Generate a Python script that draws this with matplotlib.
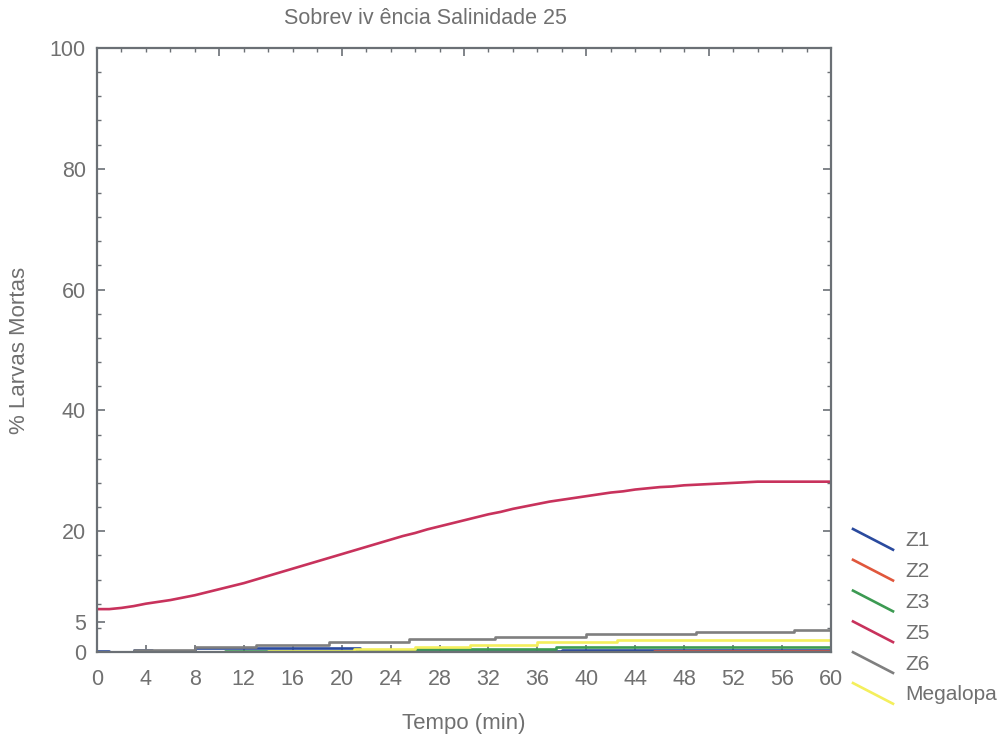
import matplotlib
matplotlib.use('Agg')
import matplotlib.pyplot as plt
from matplotlib.lines import Line2D
from matplotlib.legend_handler import HandlerBase
from matplotlib.ticker import MultipleLocator, FixedLocator

plt.rcParams['font.family'] = ['Liberation Sans', 'DejaVu Sans']
txt = '#707070'
axc = '#6b7075'

# series: step times (min) and % dead larvae
labels = ['Z1', 'Z2', 'Z3', 'Z5', 'Z6', 'Megalopa']
colors = ['#2a4a9e', '#e0573c', '#3c9a52', '#c8325c', '#7f7f7f', '#f4ef5c']

t_z1 = [0, 1, 3, 4.5, 8, 21.5, 38, 60]
v_z1 = [0.2, 0, 0.3, 0, 0.6, 0.1, 0.4, 0.4]
t_z2 = [0, 45.5, 60]
v_z2 = [0, 0.2, 0.2]
t_z3 = [0, 10.5, 21.5, 26, 37.5, 60]
v_z3 = [0, 0.2, 0.1, 0.5, 0.9, 0.9]
t_z5 = list(range(0, 61))
v_z5 = [7.1, 7.1, 7.3, 7.6, 8.0, 8.3, 8.6, 9.0, 9.4, 9.9,
        10.4, 10.9, 11.4, 12.0, 12.6, 13.2, 13.8, 14.4, 15.0, 15.6,
        16.2, 16.8, 17.4, 18.0, 18.6, 19.2, 19.7, 20.3, 20.8, 21.3,
        21.8, 22.3, 22.8, 23.2, 23.7, 24.1, 24.5, 24.9, 25.2, 25.5,
        25.8, 26.1, 26.4, 26.6, 26.9, 27.1, 27.3, 27.4, 27.6, 27.7,
        27.8, 27.9, 28.0, 28.1, 28.2, 28.2, 28.2, 28.2, 28.2, 28.2, 28.2]
t_z6 = [0, 3, 8, 13, 19, 25.5, 32.5, 40, 49, 57, 60]
v_z6 = [0, 0.3, 0.8, 1.2, 1.7, 2.1, 2.5, 3.0, 3.3, 3.7, 3.7]
t_meg = [0, 14, 21, 26, 30.5, 36, 42.5, 60]
v_meg = [0, 0.1, 0.5, 0.8, 1.2, 1.6, 2.0, 2.0]

series = [(t_z1, v_z1), (t_z2, v_z2), (t_z3, v_z3), (t_z5, v_z5), (t_z6, v_z6), (t_meg, v_meg)]
styles = ['steps-post', 'steps-post', 'steps-post', 'default', 'steps-post', 'steps-post']

x_ticks = list(range(0, 61, 4))
y_ticks = [0, 5, 20, 40, 60, 80, 100]


class DiagHandler(HandlerBase):
    def create_artists(self, legend, orig_handle, xdescent, ydescent, width, height, fontsize, trans):
        ln = Line2D([-xdescent, -xdescent + width], [-ydescent + height, -ydescent])
        self.update_prop(ln, orig_handle, legend)
        ln.set_drawstyle('default')
        ln.set_transform(trans)
        return [ln]


fig = plt.figure(figsize=(10.05, 7.36), dpi=100)
ax = fig.add_axes([97/1005, 84/736, 734/1005, 604/736])

handles = []
for (t, v), c, lab, ds in zip(series, colors, labels, styles):
    h, = ax.plot(t, v, drawstyle=ds, color=c, lw=1.9, label=lab)
    handles.append(h)

ax.set_xlim(0, 60)
ax.set_ylim(0, 100)
for s in ax.spines.values():
    s.set_color(axc)
    s.set_linewidth(1.6)

ax.xaxis.set_major_locator(FixedLocator(x_ticks))
ax.yaxis.set_major_locator(FixedLocator(y_ticks))
ax.yaxis.set_minor_locator(MultipleLocator(4))
ax.tick_params(which='both', direction='in', color=axc, labelcolor=txt, labelsize=15.5)
ax.tick_params(axis='x', which='major', length=5, width=1.2, pad=12)
ax.tick_params(axis='y', which='major', length=6, width=1.2, pad=8)
ax.tick_params(axis='y', which='minor', length=3, width=1.0)

top = ax.secondary_xaxis('top')
top.xaxis.set_major_locator(MultipleLocator(10))
top.xaxis.set_minor_locator(MultipleLocator(2))
top.tick_params(which='both', direction='in', color=axc, labeltop=False)
top.tick_params(which='major', length=6, width=1.2)
top.tick_params(which='minor', length=3, width=1.0)
top.spines['top'].set_visible(False)

right = ax.secondary_yaxis('right')
right.yaxis.set_major_locator(MultipleLocator(20))
right.yaxis.set_minor_locator(MultipleLocator(4))
right.tick_params(which='both', direction='in', color=axc, labelright=False)
right.tick_params(which='major', length=6, width=1.2)
right.tick_params(which='minor', length=3, width=1.0)
right.spines['right'].set_visible(False)

ax.set_xlabel('Tempo (min)', fontsize=16, color=txt, labelpad=17)
ax.set_ylabel('% Larvas Mortas', fontsize=16, color=txt, labelpad=14)
fig.text(425/1005, 1 - 19/736, 'Sobrev iv ência Salinidade 25', fontsize=15.5,
         color=txt, ha='center', va='center')

fs = 15
px = fs * 100 / 72
leg = fig.legend(handles, labels, loc='upper left',
                 bbox_to_anchor=(853/1005, 1 - 529/736), bbox_transform=fig.transFigure,
                 frameon=False, fontsize=fs, borderpad=0, borderaxespad=0,
                 handlelength=40/px, handleheight=24/px,
                 labelspacing=(30.4-24)/px + 3/px, handletextpad=12/px,
                 handler_map={Line2D: DiagHandler()})
for t in leg.get_texts():
    t.set_color(txt)

fig.savefig('out.png', dpi=100)
